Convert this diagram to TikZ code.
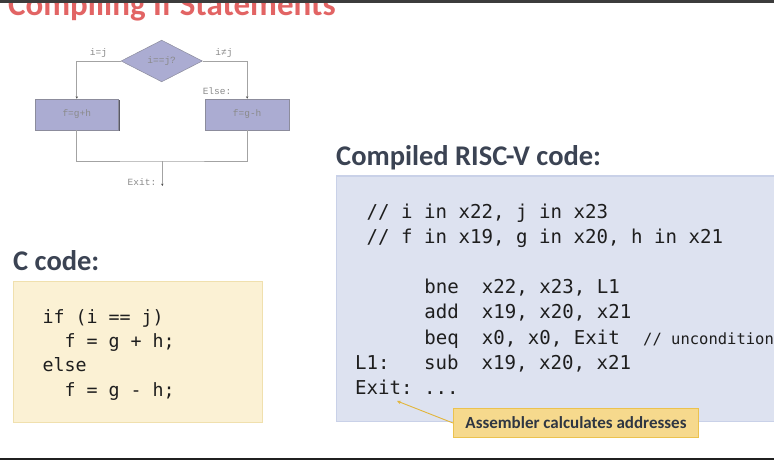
\documentclass[tikz,border=0pt]{standalone}
\usepackage{fontspec}
\usetikzlibrary{shapes.geometric,arrows.meta}
\setmainfont{Carlito}
\newfontfamily\codefont{DejaVu Sans Mono}
\newfontfamily\chartfont{Liberation Mono}

\definecolor{titlered}{HTML}{E26464}
\definecolor{headcol}{HTML}{3B4353}
\definecolor{barcol}{HTML}{3C3C3C}
\definecolor{rulecol}{HTML}{202020}
\definecolor{flowfill}{HTML}{ABACD2}
\definecolor{flowedge}{HTML}{8C8C9C}
\definecolor{flowshadow}{HTML}{5A5A66}
\definecolor{chartgray}{HTML}{A3A3A3}
\definecolor{chartlbl}{HTML}{8A8A8A}
\definecolor{panelblue}{HTML}{DDE2F0}
\definecolor{paneledge}{HTML}{C9D1E8}
\definecolor{panelcream}{HTML}{FBF1D4}
\definecolor{creamedge}{HTML}{F0E0AE}
\definecolor{notefill}{HTML}{F6D98D}
\definecolor{noteedge}{HTML}{EBC24E}
\definecolor{notearrowcol}{HTML}{E2B53A}
\definecolor{codecol}{HTML}{1E1E1E}

\begin{document}
\begin{tikzpicture}[x=1pt,y=-1pt,
  lbl/.style={inner sep=0pt, anchor=base west},
  heading/.style={lbl, text=headcol, font=\fontsize{28.5}{32}\selectfont\bfseries},
  asmcode/.style={lbl, text=codecol, font=\codefont\fontsize{19.1}{22}\selectfont},
  asmnote/.style={lbl, text=codecol, font=\codefont\fontsize{15.5}{18}\selectfont},
  ccode/.style={lbl, text=codecol, font=\codefont\fontsize{18.3}{21}\selectfont},
  chartlabel/.style={inner sep=0pt, text=chartlbl, font=\chartfont\fontsize{9.5}{10}\selectfont},
  flowbox/.style={rectangle, fill=flowfill, draw=flowedge, line width=0.5pt,
    minimum width=83.3pt, minimum height=31pt, inner sep=0pt,
    preaction={fill=flowshadow, transform canvas={shift={(1.2pt,-1.2pt)}}}},
  chartline/.style={draw=chartgray, line width=0.9pt},
  tinytip/.style={-{Stealth[length=2.4pt,width=2.4pt,color=black!70]}},
]
\useasboundingbox (0,0) rectangle (774,460);
\clip (0,0) rectangle (774,460);

% slide title, partly hidden under the top bar
\node[lbl, text=titlered, font=\fontsize{33}{36}\selectfont\bfseries] (title) at (8,15.5) {Compiling If Statements};
\fill[barcol] (0,0) rectangle (774,3.3);
\fill[rulecol] (0,457.8) rectangle (774,460);

% ---- flowchart ----
\node[diamond, fill=flowfill, draw=flowedge, line width=0.5pt, inner sep=0pt,
      minimum width=81.3pt, minimum height=41.7pt] (cond) at (161.7,61) {};
\node[chartlabel] (condtxt) at (cond.center) {i==j?};
\node[flowbox] (thenbox) at (76.8,114.5) {};
\node[flowbox] (elsebox) at (247.2,114.5) {};
\node[chartlabel] (thentxt) at (thenbox.center) {f=g+h};
\node[chartlabel] (elsetxt) at (elsebox.center) {f=g-h};

\draw[chartline, tinytip] (cond.west) -| (thenbox.north);
\draw[chartline, tinytip] (cond.east) -| (elsebox.north);
\coordinate (join) at (162.3,161);
\coordinate (exitpt) at (162.3,186);
\draw[chartline] (thenbox.south) |- (join) -| (elsebox.south);
\draw[chartline, tinytip] (join) -- (exitpt);

\node[chartlabel] (eqlbl) at (98.5,53.5) {i=j};
\node[chartlabel] (nelbl) at (224,53.5) {i≠j};
\node[chartlabel] (elselbl) at (217,91.5) {Else:};
\node[chartlabel] (exitlbl) at (142,182) {Exit:};

% ---- C code ----
\node[heading] (chead) at (13,270) {C code:};
\fill[panelcream, draw=creamedge, line width=1pt] (13.3,281.7) rectangle (262.3,422.7);
\node[ccode] (c1) at (42.3,323) {if (i == j)};
\node[ccode] (c2) at (64.3,347.4) {f = g + h;};
\node[ccode] (c3) at (42.3,371.8) {else};
\node[ccode] (c4) at (64.3,396.2) {f = g - h;};

% ---- RISC-V code ----
\node[heading] (asmhead) at (336,165) {Compiled RISC-V code:};
\fill[panelblue, draw=paneledge, line width=1.2pt] (336.7,176) rectangle (790,421.7);
\node[asmcode] (a1) at (366.5,218.5) {// i in x22, j in x23};
\node[asmcode] (a2) at (366.5,243.6) {// f in x19, g in x20, h in x21};
\node[asmcode] (a3) at (424.1,293.8) {bne~~x22, x23, L1};
\node[asmcode] (a4) at (424.1,318.9) {add~~x19, x20, x21};
\node[asmcode] (a5) at (424.1,344.0) {beq~~x0, x0, Exit};
\node[asmnote] (a5c) at (643,344.0) {// unconditional branch};
\node[asmcode] (a6) at (355,369.1) {L1:~~~sub~~x19, x20, x21};
\node[asmcode] (a7) at (355,394.2) {Exit:~...};

% ---- callout ----
\coordinate (exitmark) at (397,401);
\node[rectangle, fill=notefill, draw=noteedge, line width=1pt, anchor=north west,
      minimum width=245pt, minimum height=29pt, inner sep=0pt,
      text=headcol!80!black, font=\fontsize{17}{20}\selectfont\bfseries] (note) at (453,408)
      {Assembler calculates addresses};
\draw[notearrowcol, line width=0.9pt, -{Stealth[length=4pt,width=3.5pt]}] (note.west) -- (exitmark);
\end{tikzpicture}
\end{document}
